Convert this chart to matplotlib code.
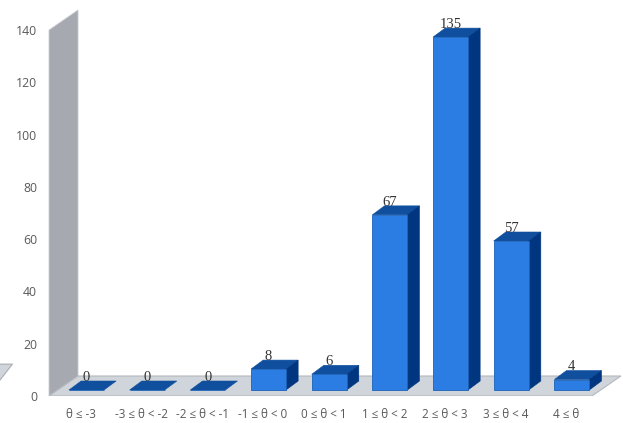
import matplotlib
matplotlib.use("Agg")
import matplotlib.pyplot as plt
from matplotlib.patches import Polygon

categories = ["θ ≤ -3", "-3 ≤ θ < -2", "-2 ≤ θ < -1", "-1 ≤ θ < 0", "0 ≤ θ < 1",
              "1 ≤ θ < 2", "2 ≤ θ < 3", "3 ≤ θ < 4", "4 ≤ θ"]
counts = [0, 0, 0, 8, 6, 67, 135, 57, 4]
y_ticks = [0, 20, 40, 60, 80, 100, 120, 140]

FRONT = "#2b7de3"
TOP = "#0f4f9e"
SIDE = "#003580"
WALL = "#a6a9b0"
FLOOR = "#cfd5da"
GREY_TEXT = "#595959"

# fake 3d: depth offsets and bar base height, in data units
bar_w = 0.577
dx = 0.2
dy = 3.44
base = 2.3
wall_dx = 0.478
wall_dy = 7.65
x_left = -0.618
x_right = 8.33

fig = plt.figure(figsize=(6.23, 4.23), dpi=100)
ax = fig.add_axes([0, 27 / 423, 1, 396 / 423])
ax.set_xlim(-86.5 / 60.67, (623 - 86.5) / 60.67)
ax.set_ylim(0, 396 / 2.614)
ax.patch.set_visible(False)
for s in ax.spines.values():
    s.set_visible(False)

# back wall
ax.add_patch(Polygon([(x_left, 0), (x_left, 140), (x_left + wall_dx, 140 + wall_dy),
                      (x_left + wall_dx, wall_dy)],
                     closed=True, fc=WALL, ec="#c9ccd2", lw=0.6, zorder=1))
# floor
ax.add_patch(Polygon([(x_left, 0), (x_right, 0), (x_right + wall_dx, wall_dy),
                     (x_left + wall_dx, wall_dy)],
                     closed=True, fc=FLOOR, ec="#b4b8bd", lw=0.8, zorder=2))
# bit of another floor poking in at the left edge
ax.add_patch(Polygon([(-1.45, 5.4), (-1.22, 12.2), (-1.45, 12.2)],
                     closed=True, fc=FLOOR, ec="#a9adb2", lw=0.8, zorder=2, clip_on=False))

for i, v in enumerate(counts):
    x0 = i - bar_w / 2
    x1 = i + bar_w / 2
    h = base + v
    ax.add_patch(Polygon([(x0, h), (x1, h), (x1 + dx, h + dy), (x0 + dx, h + dy)],
                         closed=True, fc=TOP, ec=TOP, lw=0.4, zorder=3))
    if v > 0:
        ax.add_patch(Polygon([(x1, base), (x1 + dx, base + dy), (x1 + dx, h + dy), (x1, h)],
                             closed=True, fc=SIDE, ec=SIDE, lw=0.4, zorder=3))
    ax.text(i, h + dy - 1.1, str(v), ha="center", va="bottom", fontsize=10.5,
            family="Liberation Serif", color="#333333", zorder=5)

ax.bar(range(len(counts)), counts, width=bar_w, bottom=base, color=FRONT,
       edgecolor="#1c63b8", linewidth=0.6, zorder=4)

ax.set_yticks(y_ticks)
ax.set_yticklabels([str(t) for t in y_ticks], family="Open Sans", fontsize=8.8, color=GREY_TEXT)
ax.set_xticks([i - 0.09 for i in range(len(categories))])
ax.set_xticklabels(categories, family="Open Sans", fontsize=8.4, color=GREY_TEXT)
ax.tick_params(axis="both", length=0)
ax.tick_params(axis="y", direction="in", pad=-26.6)
ax.tick_params(axis="x", pad=8.5)
for lab in ax.get_yticklabels():
    lab.set_ha("right")

fig.savefig("out.png", dpi=100)
